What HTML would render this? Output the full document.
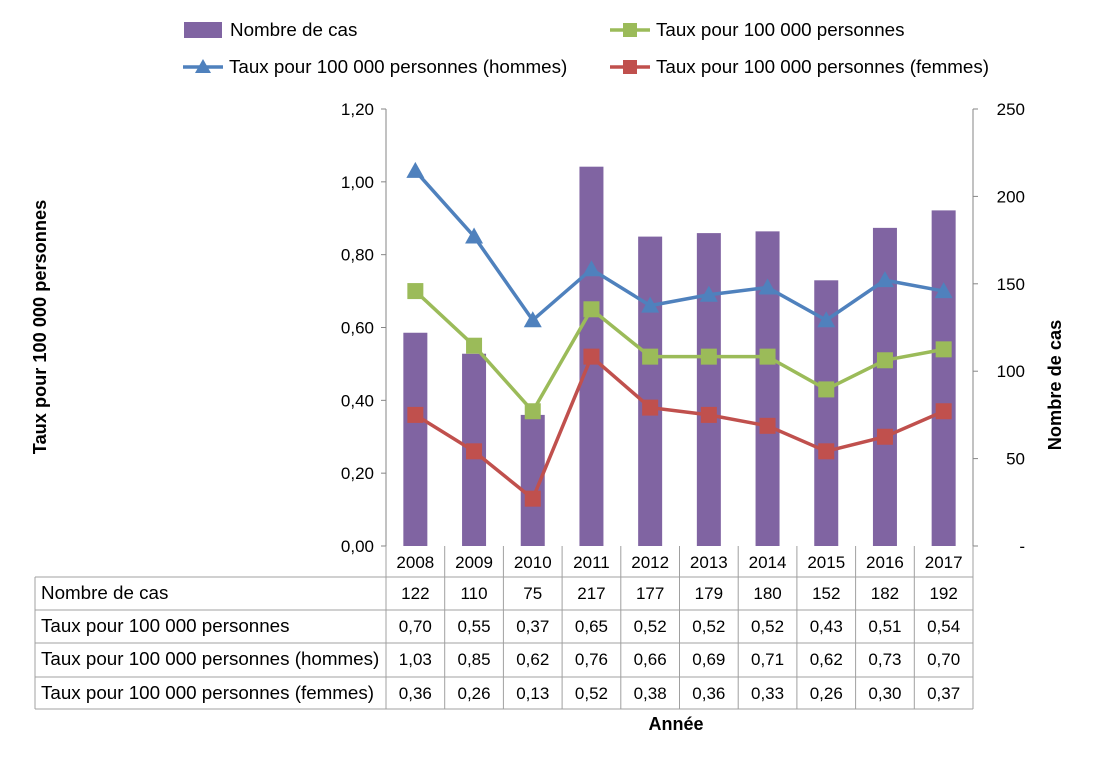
<!DOCTYPE html>
<html><head><meta charset="utf-8"><style>
body{margin:0;background:#fff;font-family:"Liberation Sans",Arial,sans-serif;}
svg text{font-family:"Liberation Sans",Arial,sans-serif;}
</style></head><body>
<svg id="chart" width="1098" height="763" xmlns="http://www.w3.org/2000/svg"></svg>
<script>
const years=["2008","2009","2010","2011","2012","2013","2014","2015","2016","2017"];
const cases=[122,110,75,217,177,179,180,152,182,192];
const rateAll=[0.70,0.55,0.37,0.65,0.52,0.52,0.52,0.43,0.51,0.54];
const rateMen=[1.03,0.85,0.62,0.76,0.66,0.69,0.71,0.62,0.73,0.70];
const rateWomen=[0.36,0.26,0.13,0.52,0.38,0.36,0.33,0.26,0.30,0.37];
const leftTicks=["0,00","0,20","0,40","0,60","0,80","1,00","1,20"];
const rightTicks=["-","50","100","150","200","250"];

const svg=document.getElementById('chart');
const NS="http://www.w3.org/2000/svg";
function mk(tag,attrs,parent){const e=document.createElementNS(NS,tag);for(const k in attrs)e.setAttribute(k,attrs[k]);(parent||svg).appendChild(e);return e;}
const X0=386,X1=973,Y0=546,Y1=109;
const band=(X1-X0)/years.length;
const xc=i=>X0+band*(i+0.5);
const yL=v=>Y0-(v/1.2)*(Y0-Y1);
const yR=v=>Y0-(v/250)*(Y0-Y1);
const fmt=v=>v.toFixed(2).replace('.',',');
const NUM=17, TXT=18.8;

let a=mk('line',{x1:X0,y1:Y1,x2:X0,y2:Y0,stroke:'#868686'});

a=mk('line',{x1:X1,y1:Y1,x2:X1,y2:Y0,stroke:'#868686'});

leftTicks.forEach((t,i)=>{const y=yL(i*0.2);
 mk('line',{x1:X0-5,y1:y,x2:X0,y2:y,stroke:'#868686'});
 const tx=mk('text',{x:X0-12,y:y+6,'text-anchor':'end','font-size':NUM,fill:'#000'});tx.textContent=t;
 });
rightTicks.forEach((t,i)=>{const y=yR(i*50);
 mk('line',{x1:X1,y1:y,x2:X1+5,y2:y,stroke:'#868686'});
 const tx=mk('text',{x:1025,y:y+6,'text-anchor':'end','font-size':NUM,fill:'#000'});tx.textContent=t;
 });

cases.forEach((v,i)=>{const r=mk('rect',{x:xc(i)-12,y:yR(v),width:24,height:Y0-yR(v),fill:'#8064A2'});
 });

function series(vals,color,marker,name){
 const pts=vals.map((v,i)=>xc(i)+','+yL(v)).join(' ');
 const pl=mk('polyline',{points:pts,fill:'none',stroke:color,'stroke-width':3.5});
 
 vals.forEach((v,i)=>{const x=xc(i),y=yL(v);let m;
  if(marker==='sq')m=mk('rect',{x:x-8,y:y-8,width:16,height:16,fill:color});
  else m=mk('polygon',{points:`${x},${y-9} ${x+9},${y+7} ${x-9},${y+7}`,fill:color});
  });
}
series(rateMen,'#4F81BD','tri','rate-men');
series(rateAll,'#9BBB59','sq','rate-all');
series(rateWomen,'#C0504D','sq','rate-women');

const g='#A0A0A0';
const rowsY=[546,577,610,643,677,709];
const rows=[["Nombre de cas",cases.map(String)],["Taux pour 100 000 personnes",rateAll.map(fmt)],["Taux pour 100 000 personnes (hommes)",rateMen.map(fmt)],["Taux pour 100 000 personnes (femmes)",rateWomen.map(fmt)]];
for(let i=0;i<=years.length;i++)mk('line',{x1:X0+band*i,y1:546,x2:X0+band*i,y2:709,stroke:g});
mk('line',{x1:35,y1:577,x2:35,y2:709,stroke:g});
rowsY.slice(1).forEach(y=>mk('line',{x1:35,y1:y,x2:X1,y2:y,stroke:g}));
years.forEach((yr,i)=>{const t=mk('text',{x:xc(i),y:568,'text-anchor':'middle','font-size':NUM});t.textContent=yr;
 });
rows.forEach((r,ri)=>{const y=rowsY[ri+1]+22;
 const t=mk('text',{x:41,y:y,'font-size':TXT});t.textContent=r[0];
 
 r[1].forEach((v,i)=>{const c=mk('text',{x:xc(i),y:y,'text-anchor':'middle','font-size':NUM});c.textContent=v;
  });});

let t=mk('text',{x:0,y:0,transform:'translate(46,327) rotate(-90)','text-anchor':'middle','font-size':18.2,'font-weight':'bold'});t.textContent='Taux pour 100 000 personnes';

t=mk('text',{x:0,y:0,transform:'translate(1061,385) rotate(-90)','text-anchor':'middle','font-size':18.2,'font-weight':'bold'});t.textContent='Nombre de cas';

t=mk('text',{x:676,y:730,'text-anchor':'middle','font-size':18,'font-weight':'bold'});t.textContent='Année';


function leg(x,y,type,color,label){
 if(type==='bar')mk('rect',{x:x,y:y-8,width:38,height:16,fill:color});
 else{mk('line',{x1:x,y1:y,x2:x+40,y2:y,stroke:color,'stroke-width':3.5});
  if(type==='sq')mk('rect',{x:x+13,y:y-7,width:14,height:14,fill:color});
  else mk('polygon',{points:`${x+20},${y-8} ${x+28},${y+6} ${x+12},${y+6}`,fill:color});}
 const tx=mk('text',{x:x+46,y:y+6,'font-size':TXT});tx.textContent=label;
 
}
leg(184,30,'bar','#8064A2','Nombre de cas');
leg(610,30,'sq','#9BBB59','Taux pour 100 000 personnes');
leg(183,67,'tri','#4F81BD','Taux pour 100 000 personnes (hommes)');
leg(610,67,'sq','#C0504D','Taux pour 100 000 personnes (femmes)');
</script>
</body></html>
